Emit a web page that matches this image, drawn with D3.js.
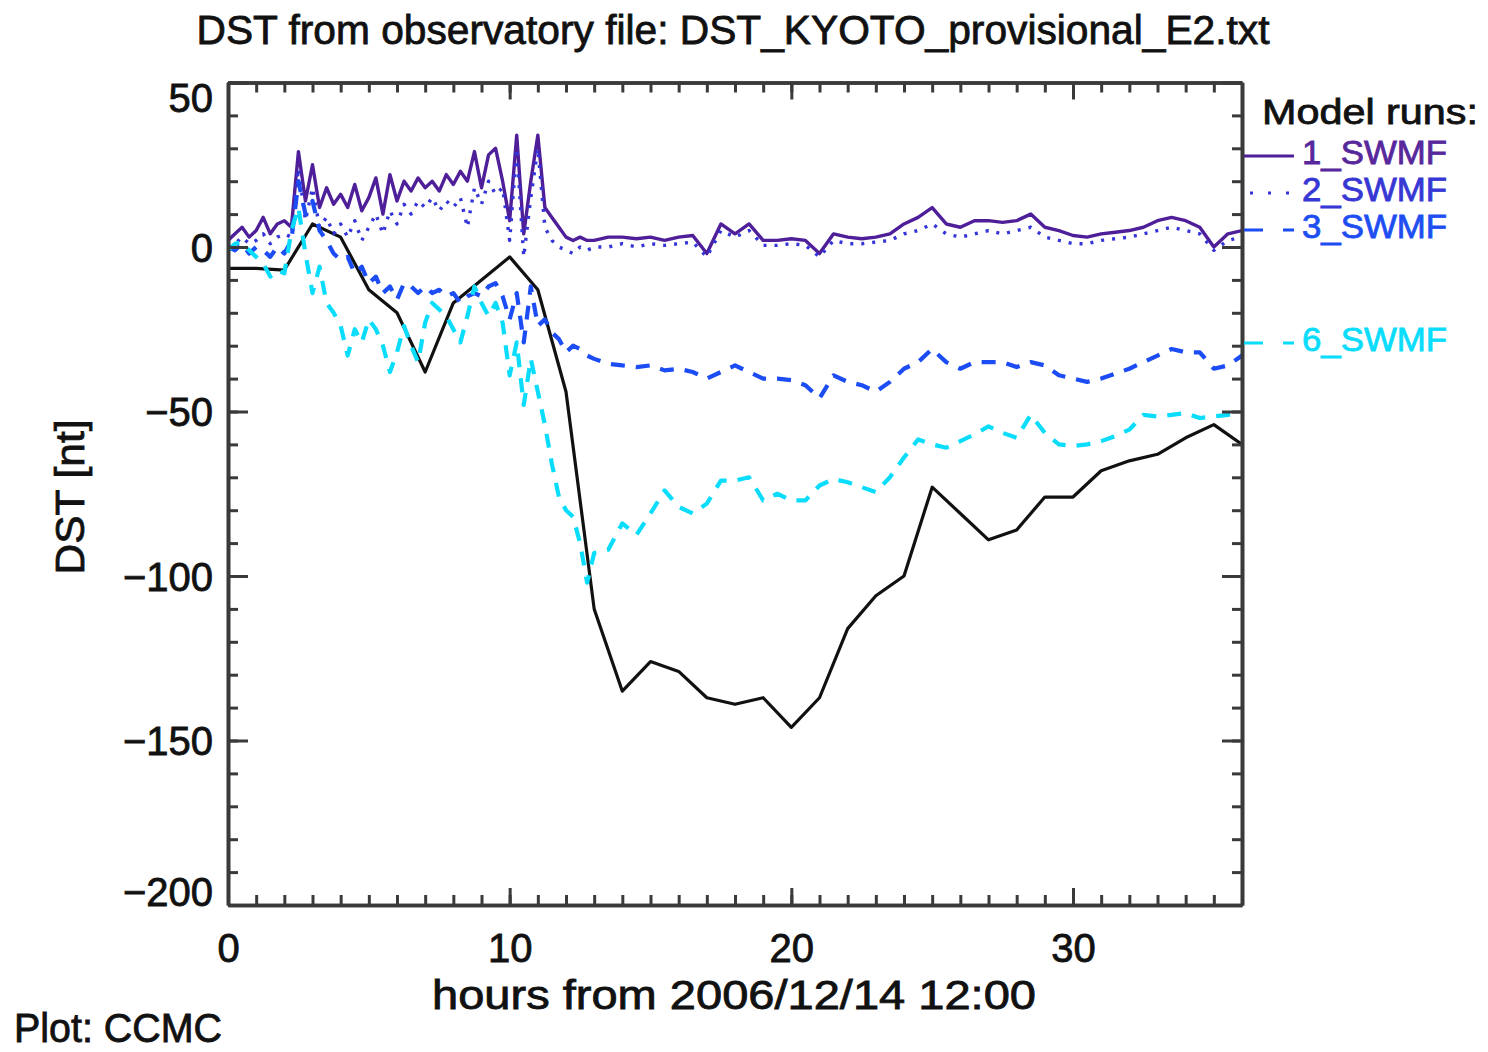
<!DOCTYPE html>
<html>
<head>
<meta charset="utf-8">
<script src="https://cdn.jsdelivr.net/npm/d3@7"></script>
<style>
  html, body { margin: 0; padding: 0; background: #fff; }
  svg { display: block; }
  text { font-family: "Liberation Sans", Arial, sans-serif; }
</style>
</head>
<body>
<svg id="chart" width="1488" height="1052"></svg>
<script>
// ---------------- DATA ----------------
const modelHours = [0,0.25,0.5,0.75,1,1.25,1.5,1.75,2,2.25,2.5,2.75,3,3.25,3.5,3.75,4,4.25,4.5,4.75,5,5.25,5.5,5.75,6,6.25,6.5,6.75,7,7.25,7.5,7.75,8,8.25,8.5,8.75,9,9.25,9.5,9.75,10,10.25,10.5,10.75,11,11.25,11.5,11.75,12,12.25,12.5,12.75,13,
  13.5,14,14.5,15,15.5,16,16.5,17,17.5,18,18.5,19,19.5,20,20.5,21,21.5,22,22.5,23,23.5,24,24.5,25,25.5,26,26.5,27,27.5,28,28.5,29,29.5,30,30.5,31,31.5,32,32.5,33,33.5,34,34.5,35,35.5,36];

const swmf1 = [2,4,6,3,5,9,4,7,8,6, 29,14,25,12,18,13,16,12,19,11, 15,21,10,22,14,20,17,21,18,20, 17,22,19,23,20,29,18,28,30,20, 8,34,4,20,34,12,9,6,3,2, 3,2,2,
  3,3,2.5,3,2,3,3.5,-2,7,4, 7,2,2,2.5,2,-2,4,3,2.5,3, 4,7,9,12,7,6,8,8,7.5,8, 10,6,5,3.5,3,4,4.5,5,6,8, 9,8,6,0,4,5];

const swmf2 = [0,1,3,1,2,4,1,3,4,3, 24,8,18,6,9,4,7,3,8,2, 6,10,4,11,7,13,10,14,12,15, 11,14,12,15,6,18,13,20,16,18, 2,30,-3,15,30,6,2,0,-1,-2, 0,-1,0,
  0,1,0,1,0.5,1,1.5,-3,5,3, 5,0.5,0.5,1,0.5,-3,2,1,1,1.5, 2,4,5,7,4,3,4,5,4,5, 6,3,2,1,1,2,2.5,3,4,5, 6,5,4,-1,2,3];

const swmf3 = [0,-1,1,-2,0,-1,-3,0,-2,2, 20,10,14,5,2,-2,-4,-3,-8,-6, -11,-9,-14,-12,-16,-11,-12,-14,-12,-14, -13,-15,-14,-17,-15,-14,-15,-12,-11,-15, -22,-14,-29,-12,-24,-22,-26,-28,-32,-30, -31,-33,-34,
  -35.5,-36,-36.5,-36,-37.5,-37,-38,-40,-38,-36, -38,-40,-40,-40.5,-42,-46,-39,-41,-42,-44, -41,-37,-35,-31,-35,-37,-35,-35,-35,-36.5, -35,-36,-39,-40,-41,-40,-38.5,-37,-35,-33, -31,-32,-32,-37,-36,-33];

const swmf6 = [-1,1,1.5,-1,-3,-5,-9,-7,-8,5, 12,-2,-14,-6,-17,-20,-24,-33,-25,-29, -22,-25,-30,-38,-32,-24,-30,-35,-23,-17, -19,-21,-25,-29,-21,-12,-17,-21,-17,-23, -39,-29,-48,-34,-44,-54,-66,-76,-80,-82, -90,-102,-93,
  -92,-84,-87.5,-81,-74,-79,-81,-78,-71,-71, -70,-77,-75,-77,-77,-72.5,-70.5,-71.5,-73,-74.5, -70,-64,-58.5,-60,-61,-59,-57,-54.5,-56.5,-58, -51,-56.5,-60,-60.5,-60,-59,-57.5,-55.5,-51,-51.5, -51,-50.5,-52,-51.5,-51,-50.5];

const obsHours = [0,1,2,3,4,5,6,7,8,9,10,11,12,13,14,15,16,17,18,19,20,21,22,23,24,25,26,27,28,29,30,31,32,33,34,35,36];
const obsDst = [-6.5,-6.5,-7,7,3,-13,-20,-38,-17,-10, -3,-13,-44,-110,-135,-126,-129,-137,-139,-137, -146,-137,-116,-106,-100,-73,-81,-89,-86,-76, -76,-68,-65,-63,-58,-54,-60];

const runNames = ["1_SWMF", "2_SWMF", "3_SWMF", "6_SWMF"];
const runValues = [swmf1, swmf2, swmf3, swmf6];
const yTickValues = [50, 0, -50, -100, -150, -200];
const xTickValues = [0, 10, 20, 30];

const titleText = "DST from observatory file: DST_KYOTO_provisional_E2.txt";
const xLabelText = "hours from 2006/12/14 12:00";
const yLabelText = "DST [nt]";
const creditText = "Plot: CCMC";
const legendTitle = "Model runs:";

// ---------------- STYLE ----------------
const runStyles = [
  { color: "#4e1f98", text: "#57279c", dash: null,    width: 3.4, legendDash: null,    legendX0: 1244 },
  { color: "#3434d8", text: "#3737d4", dash: "3,8",   width: 3.4, legendDash: "3,15",  legendX0: 1250 },
  { color: "#1c4cf4", text: "#1e4ef2", dash: "14,11", width: 4.2, legendDash: "19,20", legendX0: 1244 },
  { color: "#0adcfc", text: "#0adcfc", dash: "14,11", width: 4.2, legendDash: "19,20", legendX0: 1244 }
];
const legendLineY = [156, 193, 230, 343];

const svg = d3.select("#chart");
const L = 228, R = 1242, T = 82.5, B = 905;
const x = d3.scaleLinear().domain([0, 36]).range([L, R]);
const y = d3.scaleLinear().domain([-200, 50]).range([B, T]);

svg.append("defs").append("clipPath").attr("id", "plotclip")
  .append("rect").attr("x", L).attr("y", T).attr("width", R - L).attr("height", B - T);

const plot = svg.append("g").attr("clip-path", "url(#plotclip)");

// observed first
const obsLine = d3.line().x((d, i) => x(obsHours[i])).y(d => y(d));
plot.append("path").datum(obsDst)
  .attr("d", obsLine)
  .attr("fill", "none").attr("stroke", "#111").attr("stroke-width", 3.2)
  .attr("stroke-linejoin", "round");

const runLine = d3.line().x((d, i) => x(modelHours[i])).y(d => y(d));
runValues.forEach((vals, k) => {
  const st = runStyles[k];
  const p = plot.append("path").datum(vals)
    .attr("d", runLine)
    .attr("fill", "none").attr("stroke", st.color).attr("stroke-width", st.width)
    .attr("stroke-linejoin", "round");
  if (st.dash) p.attr("stroke-dasharray", st.dash);
});

// ---------------- AXES ----------------
const axisColor = "#3a3a3a";
function boldish(sel, color) {
  sel.attr("fill", color).attr("stroke", color).attr("stroke-width", 0.8);
}
function styleAxis(g) {
  g.selectAll("path.domain").attr("stroke", axisColor).attr("stroke-width", 3.6);
  g.selectAll(".tick line").attr("stroke", axisColor).attr("stroke-width", 3);
  const t = g.selectAll(".tick text").style("font-size", "40px")
    .style("font-family", '"Liberation Sans", Arial, sans-serif');
  boldish(t, "#111");
}
const fmt = d => (d < 0 ? "\u2212" + Math.abs(d) : String(d));

// left major
const gLeft = svg.append("g").attr("transform", `translate(${L},0)`)
  .call(d3.axisLeft(y).tickValues(yTickValues).tickSize(-20).tickSizeOuter(0).tickPadding(15).tickFormat(fmt));
styleAxis(gLeft);
gLeft.selectAll(".tick text").attr("dy", d => d === 50 ? "0.72em" : d === -200 ? "0.02em" : "0.36em");
// left minor
const gLeftMinor = svg.append("g").attr("transform", `translate(${L},0)`)
  .call(d3.axisLeft(y).ticks(25).tickSize(-10).tickSizeOuter(0).tickFormat(""));
styleAxis(gLeftMinor);
// right
const gRight = svg.append("g").attr("transform", `translate(${R},0)`)
  .call(d3.axisRight(y).tickValues(yTickValues).tickSize(-20).tickSizeOuter(0).tickFormat(""));
styleAxis(gRight);
const gRightMinor = svg.append("g").attr("transform", `translate(${R},0)`)
  .call(d3.axisRight(y).ticks(25).tickSize(-10).tickSizeOuter(0).tickFormat(""));
styleAxis(gRightMinor);
// bottom
const gBottom = svg.append("g").attr("transform", `translate(0,${B})`)
  .call(d3.axisBottom(x).tickValues(xTickValues).tickSize(-17).tickSizeOuter(0).tickPadding(29).tickFormat(d3.format("d")));
styleAxis(gBottom);
const gBottomMinor = svg.append("g").attr("transform", `translate(0,${B})`)
  .call(d3.axisBottom(x).ticks(36).tickSize(-10).tickSizeOuter(0).tickFormat(""));
styleAxis(gBottomMinor);
// top
const gTop = svg.append("g").attr("transform", `translate(0,${T})`)
  .call(d3.axisTop(x).tickValues(xTickValues).tickSize(-17).tickSizeOuter(0).tickFormat(""));
styleAxis(gTop);
const gTopMinor = svg.append("g").attr("transform", `translate(0,${T})`)
  .call(d3.axisTop(x).ticks(36).tickSize(-10).tickSizeOuter(0).tickFormat(""));
styleAxis(gTopMinor);

// ---------------- TEXT ----------------
boldish(svg.append("text").text(titleText)
  .attr("x", 733).attr("y", 44).attr("text-anchor", "middle")
  .attr("textLength", 1073).attr("lengthAdjust", "spacingAndGlyphs")
  .style("font-size", "40px"), "#111");

boldish(svg.append("text").text(xLabelText)
  .attr("x", 734).attr("y", 1009).attr("text-anchor", "middle")
  .attr("textLength", 604).attr("lengthAdjust", "spacingAndGlyphs")
  .style("font-size", "40px"), "#111");

boldish(svg.append("text").text(yLabelText)
  .attr("transform", "translate(84,497) rotate(-90)").attr("text-anchor", "middle")
  .attr("textLength", 155).attr("lengthAdjust", "spacingAndGlyphs")
  .style("font-size", "40px"), "#111");

boldish(svg.append("text").text(creditText)
  .attr("x", 14).attr("y", 1042)
  .attr("textLength", 208).attr("lengthAdjust", "spacingAndGlyphs")
  .style("font-size", "40px"), "#111");

// ---------------- LEGEND ----------------
boldish(svg.append("text").text(legendTitle)
  .attr("x", 1262).attr("y", 124)
  .attr("textLength", 216).attr("lengthAdjust", "spacingAndGlyphs")
  .style("font-size", "35px"), "#111");

runNames.forEach((name, k) => {
  const st = runStyles[k];
  const ly = legendLineY[k];
  const ln = svg.append("line")
    .attr("x1", st.legendX0).attr("x2", 1294).attr("y1", ly).attr("y2", ly)
    .attr("stroke", st.color).attr("stroke-width", 3);
  if (st.legendDash) ln.attr("stroke-dasharray", st.legendDash);
  boldish(svg.append("text").text(name)
    .attr("x", 1302).attr("y", ly + 8)
    .attr("textLength", 145).attr("lengthAdjust", "spacingAndGlyphs")
    .style("font-size", "33px"), st.text);
});
</script>
</body>
</html>
